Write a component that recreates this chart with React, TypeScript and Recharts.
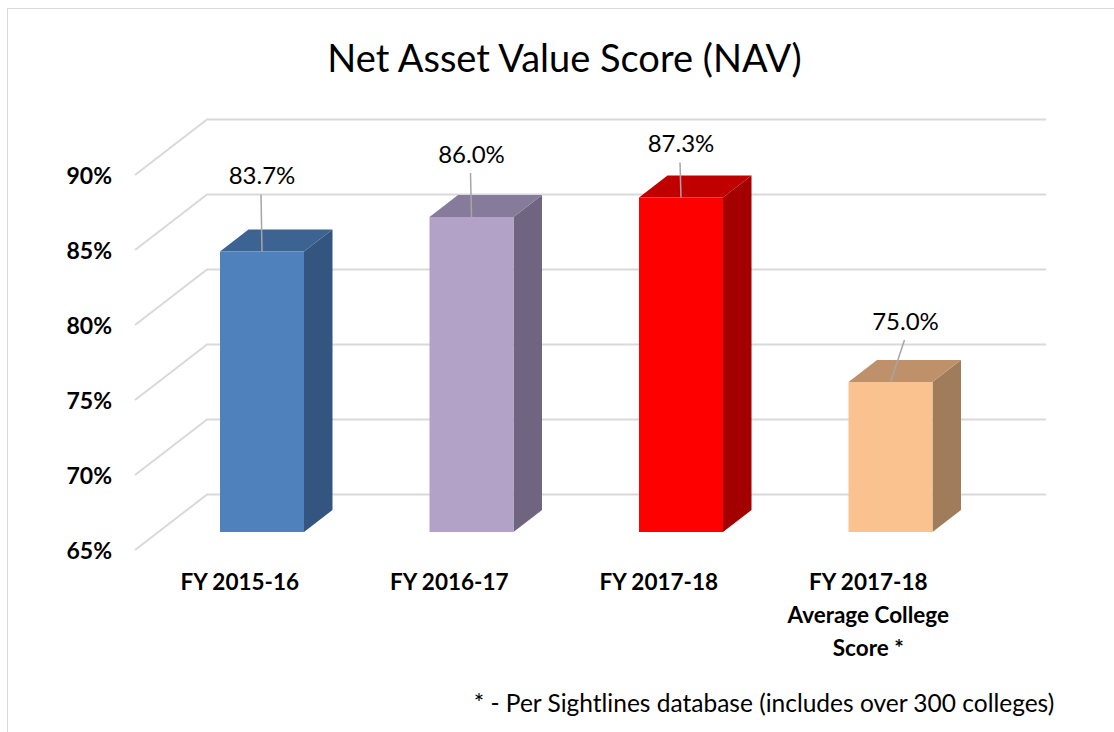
import React from "react";
import { BarChart, Bar, XAxis, YAxis, CartesianGrid, LabelList } from "recharts";

const categories = ["FY 2015-16", "FY 2016-17", "FY 2017-18", "FY 2017-18\nAverage College\nScore *"];
const navScores = [83.7, 86.0, 87.3, 75.0];
const yTicks = [65, 70, 75, 80, 85, 90];

const frontColors = ["#4f81bd", "#b3a2c7", "#ff0000", "#f9c28f"];
const topColors = ["#3c6391", "#877b9b", "#c00000", "#bf916b"];
const sideColors = ["#34557f", "#6f6580", "#a30000", "#a07c5a"];

// hand-placed data label offsets (as in the original sheet)
const labelShift = [
  { dx: 0, dy: -77 },
  { dx: 0, dy: -64 },
  { dx: 0, dy: -55 },
  { dx: 15, dy: -62 },
];

const data = categories.map((name, i) => ({ name, value: navScores[i] }));

const W = 1114;
const H = 732;
const DEPTH_X = 28.5;
const DEPTH_Y = 22;
const FONT = "Lato, 'Open Sans', sans-serif";
const GRID = "#d9d9d9";

const Box3D = (props: any) => {
  const { x, y, width: w, height: h, index } = props;
  if (h == null || w == null) return null;
  return (
    <g>
      <polygon
        points={`${x + w},${y} ${x + w + DEPTH_X},${y - DEPTH_Y} ${x + w + DEPTH_X},${y + h - DEPTH_Y} ${x + w},${y + h}`}
        fill={sideColors[index]}
      />
      <polygon
        points={`${x},${y} ${x + DEPTH_X},${y - DEPTH_Y} ${x + w + DEPTH_X},${y - DEPTH_Y} ${x + w},${y}`}
        fill={topColors[index]}
      />
      <rect x={x} y={y} width={w} height={h} fill={frontColors[index]} />
    </g>
  );
};

const GridLine3D = (props: any) => {
  const { y1 } = props;
  const back = y1 - 37.5;
  return (
    <g key={props.key}>
      <polyline
        points={`135,${y1 + 18} 207,${back} 1046,${back}`}
        fill="none"
        stroke={GRID}
        strokeWidth={2}
      />
    </g>
  );
};

const YTick = (props: any) => {
  const { y, payload } = props;
  return (
    <text x={112} y={y + 18} textAnchor="end" dominantBaseline="central"
      fontFamily={FONT} fontWeight={700} fontSize={23} fill="#000">
      {payload.value}%
    </text>
  );
};

const XTick = (props: any) => {
  const { x, y, payload } = props;
  const lines = String(payload.value).split("\n");
  return (
    <g>
      {lines.map((line, i) => (
        <text key={i} x={x - 22} y={y + 49 + i * 33} textAnchor="middle" dominantBaseline="central"
          fontFamily={FONT} fontWeight={700} fontSize={22.5} fill="#000">
          {line}
        </text>
      ))}
    </g>
  );
};

const ValueLabel = (props: any) => {
  const { x, y, width, value, index } = props;
  const cx = x + width / 2;
  const s = labelShift[index];
  const ty = y + s.dy;
  return (
    <g>
      <line x1={cx + s.dx - 1} y1={ty + 20} x2={cx} y2={y} stroke="#a6a6a6" strokeWidth={1.5} />
      <text x={cx + s.dx} y={ty} textAnchor="middle" dominantBaseline="central"
        fontFamily={FONT} fontSize={24} fill="#000">
        {Number(value).toFixed(1)}%
      </text>
    </g>
  );
};

export default function App() {
  return (
    <div style={{ position: "absolute", left: 0, top: 0, width: W, height: H, background: "#fff", overflow: "hidden" }}>
      <div style={{ position: "absolute", left: 7, top: 8, right: 0, bottom: 0, borderLeft: `1px solid ${GRID}`, borderTop: `1px solid ${GRID}` }} />
      <div style={{ position: "absolute", left: 0, width: 1129, top: 35, textAlign: "center", fontFamily: FONT, fontSize: 38, color: "#000", lineHeight: "44px" }}>
        Net Asset Value Score (NAV)
      </div>
      <div style={{ position: "absolute", left: 0, width: 1528, top: 688, textAlign: "center", fontFamily: FONT, fontSize: 24.5, color: "#000", lineHeight: "30px" }}>
        * - Per Sightlines database (includes over 300 colleges)
      </div>
      <div style={{ position: "absolute", left: 0, top: 0 }}>
        <BarChart width={W} height={H} data={data} margin={{ top: 157, right: 119, bottom: 0, left: 0 }}>
          <CartesianGrid vertical={false} horizontal={GridLine3D} stroke={GRID} />
          <YAxis domain={[65, 90]} ticks={yTicks} width={157} axisLine={false} tickLine={false} tick={YTick} allowDataOverflow />
          <XAxis dataKey="name" height={200} axisLine={false} tickLine={false} tickSize={0} tickMargin={0} tick={XTick} interval={0} />
          <Bar dataKey="value" barSize={84} shape={Box3D} isAnimationActive={false}>
            <LabelList dataKey="value" content={ValueLabel} />
          </Bar>
        </BarChart>
      </div>
    </div>
  );
}
